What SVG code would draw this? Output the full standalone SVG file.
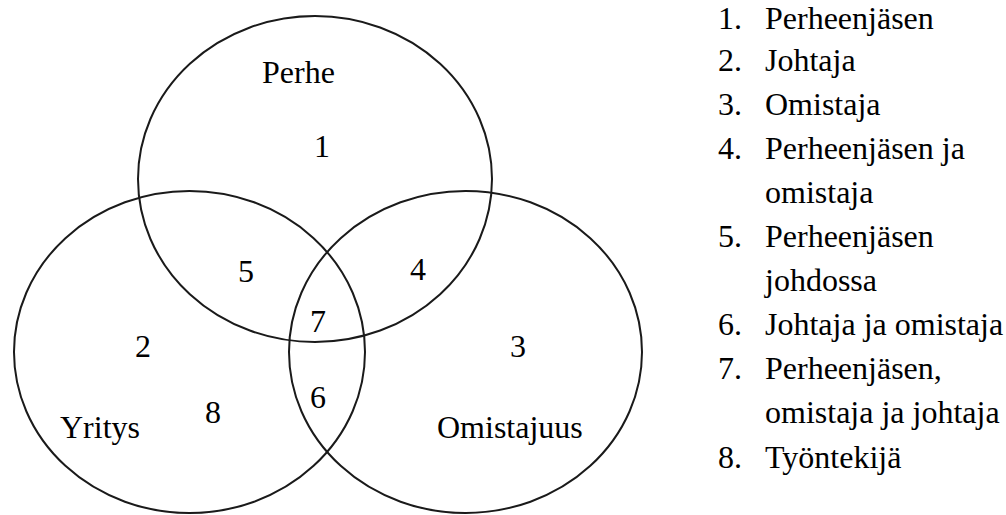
<svg xmlns="http://www.w3.org/2000/svg" width="1006" height="515" viewBox="0 0 1006 515">
  <style>
    .set { fill: none; stroke: #1a1a1a; stroke-width: 2; }
    .t { font-family: "Liberation Serif", "Times New Roman", serif; font-size: 32px; fill: #000; }
  </style>
  <rect width="1006" height="515" fill="#fff"/>
  <g id="perhe">
    <ellipse class="set" cx="315" cy="179" rx="177" ry="163"/>
    <text class="t" x="262" y="83">Perhe</text>
  </g>
  <g id="yritys">
    <ellipse class="set" cx="189.5" cy="352" rx="175.5" ry="161"/>
    <text class="t" x="60" y="438">Yritys</text>
  </g>
  <g id="omistajuus">
    <ellipse class="set" cx="465.5" cy="352" rx="176.5" ry="161"/>
    <text class="t" x="437" y="438">Omistajuus</text>
  </g>
  <g id="regions">
    <text class="t" x="314" y="157">1</text>
    <text class="t" x="238" y="282">5</text>
    <text class="t" x="410" y="280">4</text>
    <text class="t" x="310" y="332">7</text>
    <text class="t" x="135" y="357">2</text>
    <text class="t" x="510" y="357">3</text>
    <text class="t" x="310" y="408">6</text>
    <text class="t" x="205" y="423">8</text>
  </g>
  <g id="connectors"></g>
  <g id="legend">
    <text class="t" x="718" y="29">1.</text><text class="t" x="765" y="29">Perheenjäsen</text>
    <text class="t" x="718" y="70.6">2.</text><text class="t" x="765" y="70.6">Johtaja</text>
    <text class="t" x="718" y="114.7">3.</text><text class="t" x="765" y="114.7">Omistaja</text>
    <text class="t" x="718" y="158.8">4.</text><text class="t" x="765" y="158.8">Perheenjäsen ja</text>
    <text class="t" x="765" y="202.9">omistaja</text>
    <text class="t" x="718" y="247">5.</text><text class="t" x="765" y="247">Perheenjäsen</text>
    <text class="t" x="765" y="291.1">johdossa</text>
    <text class="t" x="718" y="335.2">6.</text><text class="t" x="765" y="335.2">Johtaja ja omistaja</text>
    <text class="t" x="718" y="379.3">7.</text><text class="t" x="765" y="379.3">Perheenjäsen,</text>
    <text class="t" x="765" y="423.4">omistaja ja johtaja</text>
    <text class="t" x="718" y="467.5">8.</text><text class="t" x="765" y="467.5">Työntekijä</text>
  </g>
</svg>
